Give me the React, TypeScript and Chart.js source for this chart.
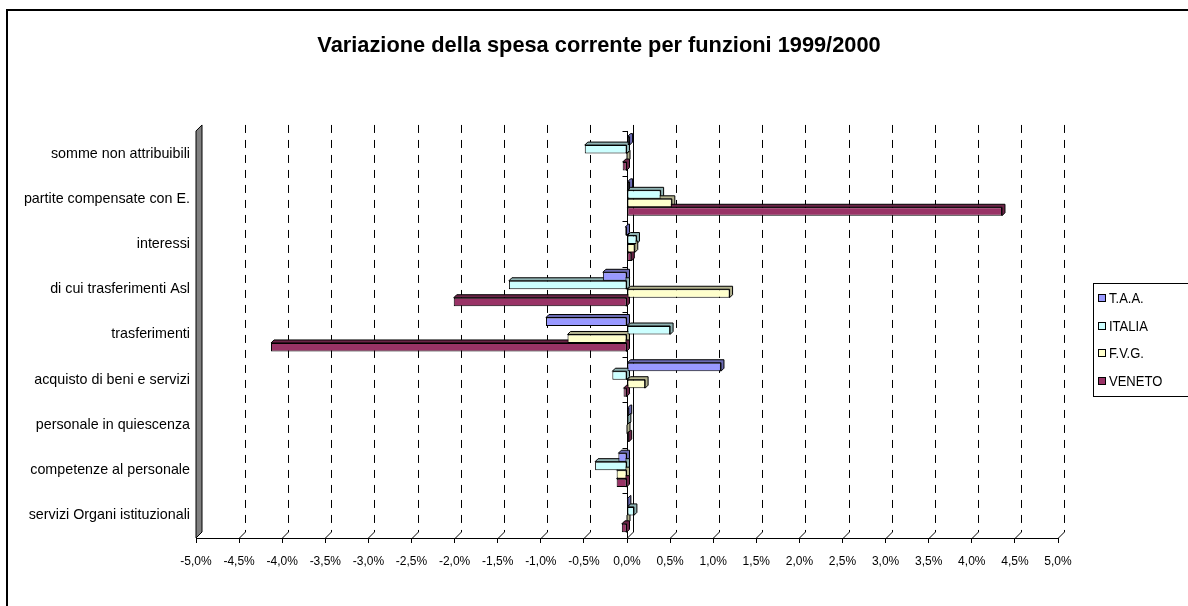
import React, { useEffect, useRef } from 'react';
import { Chart, registerables } from 'chart.js';

Chart.register(...registerables);

const categories = [
  'somme non attribuibili',
  'partite compensate con E.',
  'interessi',
  'di cui trasferimenti Asl',
  'trasferimenti',
  'acquisto di beni e servizi',
  'personale in quiescenza',
  'competenze al personale',
  'servizi Organi istituzionali',
];
const seriesNames = ['T.A.A.', 'ITALIA', 'F.V.G.', 'VENETO'];
const taaValues = [0.03, 0.03, -0.02, -0.28, -0.94, 1.09, 0.02, -0.1, 0.01];
const italiaValues = [-0.49, 0.39, 0.11, -1.37, 0.5, -0.17, 0.01, -0.37, 0.08];
const fvgValues = [0, 0.52, 0.09, 1.19, -0.69, 0.21, 0, -0.12, 0];
const venetoValues = [-0.05, 4.35, 0.05, -2.01, -4.13, -0.04, 0.02, -0.12, -0.06];
const xMin = -5;
const xMax = 5;
const xStep = 0.5;
const chartTitle = 'Variazione della spesa corrente per funzioni 1999/2000';

const fills = ['#9999FF', '#CCFFFF', '#FFFFCC', '#993366'];
const faces = ['#6B6BB3', '#8FB3B3', '#B3B38F', '#6B2447'];
const FONT = "'Liberation Sans', Arial, sans-serif";

const GRID_DEPTH = 6;
const BAR_DEPTH = 3;

const decorPlugin = {
  id: 'decor',
  beforeDatasetsDraw(chart: any) {
    const { ctx, chartArea: a, scales } = chart;
    const x = scales.x;
    ctx.save();
    ctx.strokeStyle = '#000';
    ctx.lineWidth = 1;
    // left wall
    ctx.fillStyle = '#808080';
    ctx.beginPath();
    ctx.moveTo(a.left, a.bottom);
    ctx.lineTo(a.left, a.top);
    ctx.lineTo(a.left + GRID_DEPTH, a.top - GRID_DEPTH);
    ctx.lineTo(a.left + GRID_DEPTH, a.bottom - GRID_DEPTH);
    ctx.closePath();
    ctx.fill();
    ctx.stroke();
    // grid lines (back plane)
    x.ticks.forEach((t: any) => {
      const v = t.value;
      if (v <= xMin + 1e-9) return;
      const px = Math.round(x.getPixelForValue(v)) + 0.5;
      ctx.setLineDash(Math.abs(v) < 1e-9 ? [] : [8, 7]);
      ctx.beginPath();
      ctx.moveTo(px + GRID_DEPTH, a.top - GRID_DEPTH);
      ctx.lineTo(px + GRID_DEPTH, a.bottom - GRID_DEPTH);
      ctx.stroke();
      ctx.setLineDash([]);
      ctx.beginPath();
      ctx.moveTo(px + GRID_DEPTH, a.bottom - GRID_DEPTH);
      ctx.lineTo(px, a.bottom);
      ctx.stroke();
    });
    // category axis at zero
    const x0 = Math.round(x.getPixelForValue(0)) + 0.5;
    ctx.beginPath();
    ctx.moveTo(x0, a.top);
    ctx.lineTo(x0, a.bottom);
    for (let i = 0; i <= categories.length; i++) {
      const py = Math.round(a.top + ((a.bottom - a.top) * i) / categories.length) + 0.5;
      ctx.moveTo(x0 - 5, py);
      ctx.lineTo(x0, py);
    }
    ctx.stroke();
    // 3D faces of bars
    chart.data.datasets.forEach((_ds: any, di: number) => {
      const meta = chart.getDatasetMeta(di);
      meta.data.forEach((bar: any) => {
        const p = bar.getProps(['x', 'y', 'base', 'height'], true);
        const l = Math.min(p.x, p.base);
        const r = Math.max(p.x, p.base);
        const t = p.y - p.height / 2;
        const b = p.y + p.height / 2;
        const d = BAR_DEPTH;
        ctx.fillStyle = faces[di];
        ctx.beginPath();
        ctx.moveTo(l, t);
        ctx.lineTo(l + d, t - d);
        ctx.lineTo(r + d, t - d);
        ctx.lineTo(r + d, b - d);
        ctx.lineTo(r, b);
        ctx.lineTo(r, t);
        ctx.closePath();
        ctx.fill();
        ctx.stroke();
      });
    });
    ctx.restore();
  },
  afterDraw(chart: any) {
    const { ctx } = chart;
    ctx.save();
    ctx.strokeStyle = '#000';
    ctx.lineWidth = 1;
    ctx.fillStyle = '#fff';
    ctx.fillRect(1093.5, 283.5, 200, 113);
    ctx.strokeRect(1093.5, 283.5, 200, 113);
    ctx.font = `14px ${FONT}`;
    ctx.textBaseline = 'middle';
    chart.data.datasets.forEach((ds: any, i: number) => {
      const cy = Math.round(298 + 27.7 * i);
      ctx.fillStyle = fills[i];
      ctx.fillRect(1098.5, cy - 3.5, 7, 7);
      ctx.strokeRect(1098.5, cy - 3.5, 7, 7);
      ctx.fillStyle = '#000';
      ctx.save();
      ctx.translate(1109, cy + 1);
      ctx.scale(0.93, 1);
      ctx.fillText(ds.label, 0, 0);
      ctx.restore();
    });
    ctx.restore();
  },
};

export default function App() {
  const ref = useRef<HTMLCanvasElement>(null);
  useEffect(() => {
    if (!ref.current) return;
    Chart.defaults.font.family = FONT;
    Chart.defaults.color = '#000';
    const seriesValues = [taaValues, italiaValues, fvgValues, venetoValues];
    const chart = new Chart(ref.current, {
      type: 'bar',
      data: {
        labels: categories,
        datasets: seriesNames.map((name, i) => ({
          label: name,
          data: seriesValues[i],
          backgroundColor: fills[i],
          borderColor: '#000',
          borderWidth: 1,
          borderSkipped: false,
          categoryPercentage: 0.75,
          barPercentage: 1,
        })),
      },
      options: {
        indexAxis: 'y',
        animation: false,
        responsive: false,
        devicePixelRatio: 1,
        layout: { padding: { left: 10, right: 0, top: 0, bottom: 0 } },
        plugins: {
          legend: { display: false },
          tooltip: { enabled: false },
          title: {
            display: true,
            text: chartTitle,
            font: { size: 21.8, weight: 'bold', family: FONT },
            color: '#000',
            padding: { top: 33, bottom: 71.8 },
          },
        },
        scales: {
          x: {
            type: 'linear',
            min: xMin,
            max: xMax,
            ticks: {
              stepSize: xStep,
              autoSkip: false,
              maxRotation: 0,
              padding: 11,
              font: { size: 12 },
              callback: (v: any) => Number(v).toFixed(1).replace('.', ',') + '%',
            },
            grid: { display: true, drawOnChartArea: false, drawTicks: true, tickLength: 5, color: '#000' },
            border: { display: true, color: '#000', width: 1 },
            afterFit: (s: any) => { s.height = 68; },
          },
          y: {
            type: 'category',
            grid: { display: false, drawTicks: false },
            border: { display: false },
            ticks: { padding: 6, font: { size: 14.3 }, autoSkip: false },
            afterFit: (s: any) => { s.width = 186; },
          },
          rightSpace: {
            type: 'linear',
            axis: 'y',
            position: 'right',
            display: true,
            grid: { display: false },
            border: { display: false },
            ticks: { display: false },
            afterFit: (s: any) => { s.width = 130; },
          },
        },
      },
      plugins: [decorPlugin],
    } as any);
    return () => chart.destroy();
  }, []);
  return (
    <div style={{ position: 'absolute', left: 0, top: 0, width: 1188, height: 606, overflow: 'hidden', background: '#fff' }}>
      <div style={{ position: 'absolute', left: 6, top: 9, width: 1300, height: 700, borderLeft: '2px solid #000', borderTop: '2px solid #000' }} />
      <canvas ref={ref} width={1188} height={606} style={{ position: 'absolute', left: 0, top: 0 }} />
    </div>
  );
}
